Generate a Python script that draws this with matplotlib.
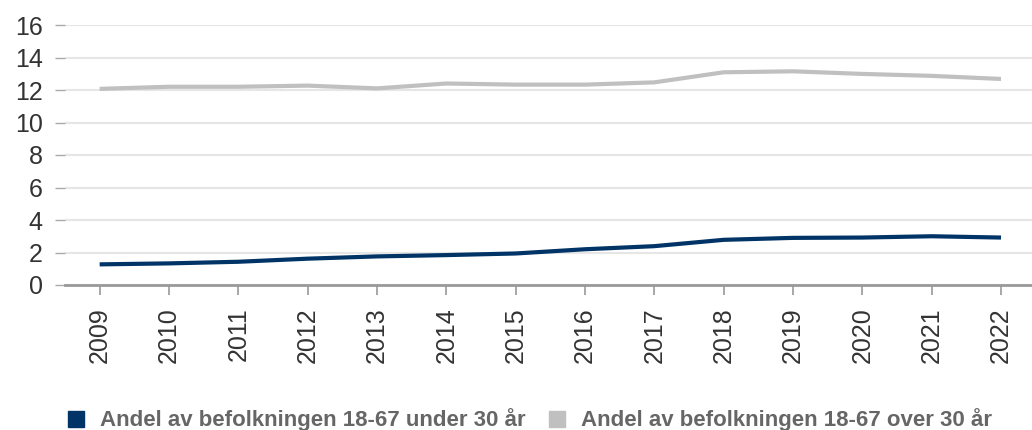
import numpy as np
import matplotlib
matplotlib.use('Agg')
import matplotlib.pyplot as plt
from matplotlib.lines import Line2D

plt.rcParams['font.family'] = ['Liberation Sans', 'DejaVu Sans']

years = [2009, 2010, 2011, 2012, 2013, 2014, 2015, 2016, 2017, 2018, 2019, 2020, 2021, 2022]
under30 = [1.27, 1.33, 1.43, 1.62, 1.76, 1.84, 1.94, 2.2, 2.39, 2.78, 2.9, 2.92, 3.0, 2.92]
over30 = [12.07, 12.2, 12.2, 12.27, 12.1, 12.4, 12.33, 12.33, 12.47, 13.09, 13.15, 12.99, 12.87, 12.68]
labels = ['Andel av befolkningen 18-67 under 30 år', 'Andel av befolkningen 18-67 over 30 år']
farger = ['#003366', '#c0c0c0']

W, H = 1032, 430
fig = plt.figure(figsize=(W/100, H/100), dpi=100)
ax = fig.add_axes([65/W, (H-285)/H, (W-65)/W, 260/H])

ax.plot(years, over30, color=farger[1], lw=3, solid_capstyle='butt', zorder=3)
ax.plot(years, under30, color=farger[0], lw=3, solid_capstyle='butt', zorder=3)

ax.set_ylim(0, 16)
ax.set_xlim(2008.5, 2022 + (W-1001)/69.3)
ax.set_yticks(range(0, 17, 2))
ax.set_xticks(years)
ax.set_xticklabels([str(y) for y in years], rotation=90)

ax.grid(axis='y', color='#e6e6e6', lw=1.5)
ax.set_axisbelow(True)
for s in ['top', 'right', 'left']:
    ax.spines[s].set_visible(False)
ax.spines['bottom'].set_color('#999999')
ax.spines['bottom'].set_linewidth(2)
ax.spines['bottom'].set_zorder(4)

ax.tick_params(axis='y', length=7, width=1, color='#aaaaaa', pad=9, labelsize=18, labelcolor='#333333')
ax.tick_params(axis='x', length=7, width=1.2, color='#999999', pad=9, labelsize=18, labelcolor='#333333')

handles = [Line2D([], [], ls='none', marker='s', markersize=12, markerfacecolor=c, markeredgecolor=c) for c in farger]
leg = fig.legend(handles, labels, loc='center', bbox_to_anchor=(0.512, 1 - 420/H), ncol=2, frameon=False,
                 prop={'weight': 'bold', 'size': 16}, handlelength=1, handletextpad=0.6, columnspacing=0.9)
for t in leg.get_texts():
    t.set_color('#666666')

fig.savefig('out.png', dpi=100)
